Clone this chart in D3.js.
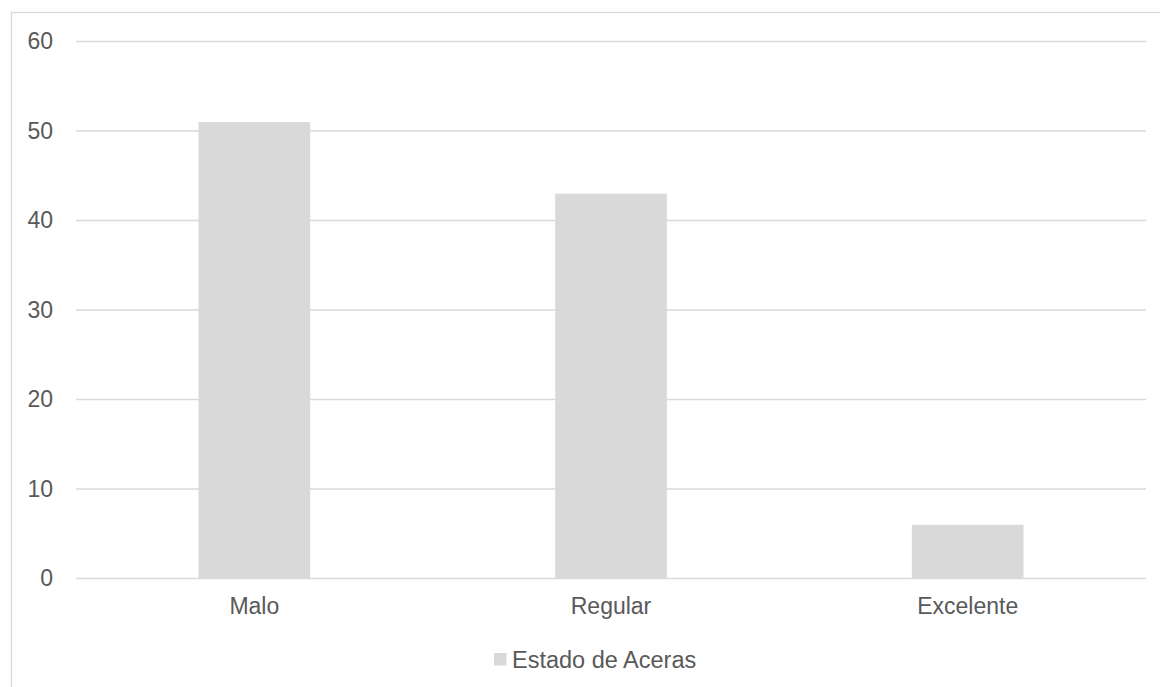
<!DOCTYPE html>
<html>
<head>
<meta charset="utf-8">
<script src="https://cdn.jsdelivr.net/npm/d3@7"></script>
<style>
  body { margin: 0; background: #fff; }
  text { font-family: "Liberation Sans", Arial, sans-serif; fill: #595959; }
</style>
</head>
<body>
<svg width="1160" height="687"></svg>
<script>
// data
const categories = ['Malo', 'Regular', 'Excelente'];
const values = [51, 43, 6];
const yTicks = [0, 10, 20, 30, 40, 50, 60];
const seriesName = 'Estado de Aceras';

const svg = d3.select('svg');
const width = +svg.attr('width');
const height = +svg.attr('height');

const margin = { top: 41.5, left: 76, right: 14, bottom: 108.5 };
const innerWidth = width - margin.left - margin.right;
const innerHeight = height - margin.top - margin.bottom;

// outer frame
svg.append('rect')
  .attr('x', 11.5).attr('y', 12.5)
  .attr('width', 1200).attr('height', 700)
  .attr('fill', 'none')
  .attr('stroke', '#d9d9d9')
  .attr('stroke-width', 1.3);

const g = svg.append('g')
  .attr('transform', `translate(${margin.left},${margin.top})`);

const xScale = d3.scaleBand()
  .domain(categories)
  .range([0, innerWidth])
  .paddingInner(0.687)
  .paddingOuter(0.3435);

const yScale = d3.scaleLinear()
  .domain([0, 60])
  .range([innerHeight, 0]);

// gridlines
g.append('g').selectAll('line')
  .data(yTicks)
  .join('line')
  .attr('x1', 0)
  .attr('x2', innerWidth)
  .attr('y1', d => yScale(d))
  .attr('y2', d => yScale(d))
  .attr('stroke', '#d9d9d9')
  .attr('stroke-width', 1.3);

// bars
g.append('g').selectAll('rect')
  .data(values)
  .join('rect')
  .attr('x', (d, i) => xScale(categories[i]))
  .attr('y', d => yScale(d))
  .attr('width', xScale.bandwidth())
  .attr('height', d => innerHeight - yScale(d))
  .attr('fill', '#d9d9d9');

// y axis labels
const yAxis = g.append('g')
  .call(d3.axisLeft(yScale).tickValues(yTicks).tickSize(0).tickPadding(23));
yAxis.select('.domain').remove();
yAxis.selectAll('text')
  .attr('font-size', 23)
  .attr('font-family', null)
  .attr('fill', null);

// x axis labels
const xAxis = g.append('g')
  .attr('transform', `translate(0,${innerHeight})`)
  .call(d3.axisBottom(xScale).tickSize(0).tickPadding(19));
xAxis.select('.domain').remove();
xAxis.selectAll('text')
  .attr('font-size', 23)
  .attr('font-family', null)
  .attr('fill', null);

// legend
const legend = svg.append('g')
  .attr('transform', 'translate(494,653)');
legend.append('rect')
  .attr('width', 12.5).attr('height', 12.5)
  .attr('fill', '#d9d9d9');
legend.append('text')
  .attr('x', 18)
  .attr('y', 6.5)
  .attr('dy', '0.35em')
  .attr('font-size', 23.5)
  .text(seriesName);
</script>
</body>
</html>
